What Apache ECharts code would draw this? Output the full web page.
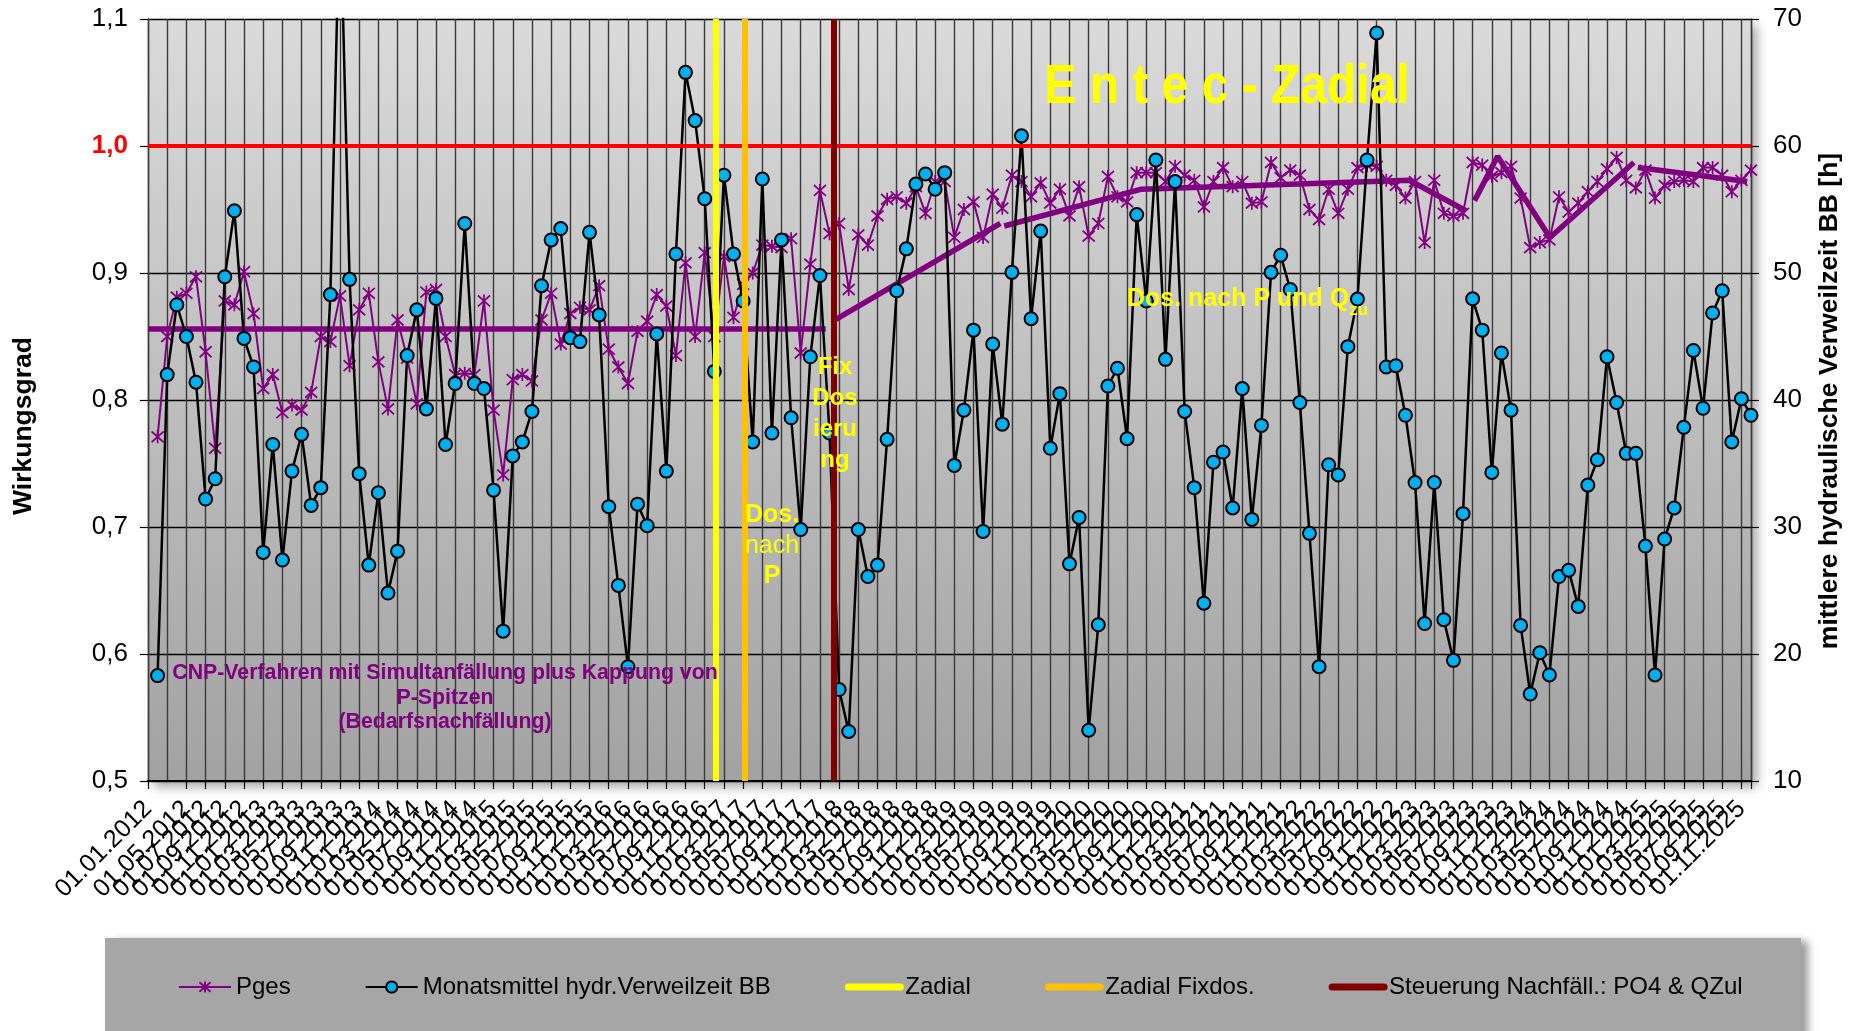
<!DOCTYPE html>
<html><head><meta charset="utf-8">
<script src="https://cdn.jsdelivr.net/npm/echarts@6/dist/echarts.min.js"></script>
<style>html,body{margin:0;padding:0;background:#fff}#c{width:1857px;height:1031px}</style>
</head><body><div id="c"></div>
<script>
// Tick labels: one per month, 01.01.2012 ... 01.12.2025 (every second one is shown)
const tickLabels = [];
for (let y = 2012; y <= 2025; y++) {
  for (let m = 1; m <= 12; m++) tickLabels.push('01.' + (m < 10 ? '0' + m : m) + '.' + y);
}
// Monthly values (167 months), plotted at month positions 1..167
const pges = [0.771,0.85,0.881,0.884,0.897,0.838,0.762,0.878,0.875,0.901,
 0.868,0.809,0.82,0.79,0.796,0.792,0.806,0.85,0.846,0.882,
 0.827,0.871,0.884,0.83,0.793,0.863,0.833,0.797,0.885,0.887,
 0.85,0.82,0.821,0.82,0.878,0.792,0.741,0.816,0.82,0.815,
 0.863,0.884,0.844,0.868,0.873,0.871,0.89,0.84,0.826,0.813,
 0.854,0.862,0.883,0.874,0.835,0.908,0.85,0.916,0.85,0.913,
 0.865,0.891,0.90,0.922,0.921,0.92,0.927,0.837,0.907,0.965,
 0.931,0.939,0.887,0.93,0.922,0.945,0.958,0.96,0.955,0.968,
 0.947,0.972,0.972,0.928,0.95,0.956,0.928,0.962,0.951,0.977,
 0.972,0.96,0.971,0.955,0.966,0.945,0.968,0.929,0.939,0.976,
 0.96,0.956,0.979,0.979,0.979,0.972,0.984,0.977,0.973,0.952,
 0.972,0.983,0.968,0.972,0.955,0.956,0.987,0.975,0.981,0.977,
 0.95,0.942,0.966,0.947,0.966,0.983,0.985,0.984,0.973,0.969,
 0.959,0.972,0.924,0.973,0.947,0.945,0.947,0.987,0.985,0.976,
 0.979,0.984,0.959,0.92,0.924,0.926,0.96,0.948,0.955,0.964,
 0.972,0.982,0.991,0.973,0.967,0.981,0.959,0.969,0.972,0.973,
 0.972,0.983,0.983,0.977,0.964,0.973,0.981];
const verweilzeit = [18.3,42.0,47.5,45.0,41.4,32.2,33.8,49.7,54.9,44.85,
 42.6,28.0,36.5,27.4,34.4,37.3,31.7,33.1,48.3,80,
 49.5,34.2,27.0,32.7,24.8,28.1,43.5,47.1,39.3,48.0,
 36.5,41.3,53.9,41.3,40.9,32.9,21.8,35.6,36.7,39.1,
 49.0,52.6,53.5,44.9,44.6,53.2,46.7,31.6,25.4,19.0,
 31.8,30.1,45.2,34.4,51.5,65.8,62.0,55.85,42.25,57.7,
 51.5,47.8,36.7,57.4,37.4,52.6,38.6,29.8,43.4,49.8,
 37.4,17.2,13.9,29.8,26.1,27.0,36.9,48.6,51.9,57.0,
 57.8,56.6,57.9,34.85,39.2,45.5,29.65,44.4,38.1,50.05,
 60.8,46.4,53.3,36.2,40.5,27.1,30.75,14.0,22.3,41.1,
 42.5,36.95,54.6,47.8,58.9,43.2,57.2,39.1,33.1,24.0,
 35.1,35.9,31.5,40.9,30.6,38.0,50.05,51.4,48.7,39.8,
 29.5,19.0,34.9,34.1,44.2,47.95,58.9,68.9,42.6,42.7,
 38.8,33.5,22.4,33.5,22.7,19.5,31.05,47.97,45.5,34.3,
 43.7,39.2,22.25,16.85,20.1,18.35,26.1,26.6,23.75,33.3,
 35.3,43.4,39.8,35.8,35.8,28.5,18.35,29.05,31.5,37.85,
 43.9,39.35,46.85,48.6,36.7,40.1,38.8];
// Trend segments [month position, Wirkungsgrad]
const trendA = [[0,0.856],[70.6,0.856]];
const trendB = [[71.3,0.862],[88.8,0.939]];
const trendC = [[89.2,0.937],[103.5,0.966],[131.4,0.973],[137.3,0.949]];
const trendD = [[138.2,0.957],[140.6,0.992],[146.05,0.928],[154.8,0.987]];
const trendE = [[155.2,0.983],[166.6,0.972]];
// Event markers (month positions)
const zadialAt = 59.15, fixdosAt = 62.2, steuerungAt = 71.4;
const limitValue = 1.0;

const FONT = '"Liberation Sans", Arial, sans-serif';
const toPairs = arr => arr.map((v, i) => [i + 1, v]);
const trendSeries = (d) => ({
  type: 'line', data: d, symbol: 'none', yAxisIndex: 0, z: 3, silent: true,
  lineStyle: { color: '#800080', width: 5.5 }, animation: false
});
const vLine = (name, pos, color) => ({
  name, type: 'line', data: [], symbol: 'none', z: 6,
  lineStyle: { color, width: 7, cap: 'round' }, itemStyle: { color },
  markLine: { silent: true, symbol: ['none', 'none'], label: { show: false },
    lineStyle: { color, width: 6, type: 'solid' }, data: [{ xAxis: pos }], animation: false }
});
const barLegend = (name, color) => ({ name, itemStyle: { opacity: 0 }, lineStyle: { width: 7, color, cap: 'round' } });

const chart = echarts.init(document.getElementById('c'), null, { renderer: 'canvas' });
chart.setOption({
  animation: false,
  backgroundColor: '#fff',
  textStyle: { fontFamily: FONT },
  grid: {
    left: 148, right: 106, top: 19, bottom: 250, show: true, containLabel: false, outerBoundsMode: 'none',
    borderWidth: 0,
    backgroundColor: new echarts.graphic.LinearGradient(0, 0, 0, 1, [
      { offset: 0, color: '#dadada' }, { offset: 1, color: '#a2a2a2' }]),
    shadowColor: 'rgba(0,0,0,0.35)', shadowBlur: 10, shadowOffsetX: 6, shadowOffsetY: 6
  },
  xAxis: {
    type: 'value', min: 0, max: 167, interval: 2,
    axisLine: { show: true, onZero: false, lineStyle: { color: '#000', width: 2 } },
    axisTick: { show: true, length: 8, inside: false, lineStyle: { color: '#000', width: 1.2 } },
    splitLine: { show: true, lineStyle: { color: '#3a3a3a', width: 1.4 } },
    axisLabel: {
      rotate: 45, fontSize: 25, color: '#000', fontFamily: FONT, margin: 24, hideOverlap: false,
      showMinLabel: true, showMaxLabel: true,
      formatter: v => (v % 2 === 0 && v <= 166) ? tickLabels[v] : ''
    }
  },
  yAxis: [{
    type: 'value', min: 0.5, max: 1.1, interval: 0.1,
    axisLine: { show: true, lineStyle: { color: '#3a3a3a', width: 1.4 } },
    axisTick: { show: true, length: 8, lineStyle: { color: '#000', width: 1.2 } },
    splitLine: { show: true, lineStyle: { color: '#000', width: 1.3 } },
    axisLabel: {
      fontSize: 26, color: '#000', margin: 20, fontFamily: FONT,
      formatter: v => {
        const s = v.toFixed(1).replace('.', ',');
        return Math.abs(v - 1.0) < 1e-6 ? '{r|' + s + '}' : s;
      },
      rich: { r: { color: '#ff0000', fontWeight: 'bold', fontSize: 26, fontFamily: FONT } }
    }
  }, {
    type: 'value', min: 10, max: 70, interval: 10, position: 'right',
    axisLine: { show: true, lineStyle: { color: '#3a3a3a', width: 1.4 } },
    axisTick: { show: true, length: 8, lineStyle: { color: '#000', width: 1.2 } },
    splitLine: { show: false },
    axisLabel: { fontSize: 26, color: '#000', margin: 22, fontFamily: FONT }
  }],
  legend: {
    left: 178, top: 975, itemGap: 74, itemWidth: 52, itemHeight: 14, padding: 0,
    textStyle: { fontSize: 24, color: '#000', fontFamily: FONT },
    data: ['Pges', 'Monatsmittel hydr.Verweilzeit BB',
      barLegend('Zadial', '#ffff00'), barLegend('Zadial Fixdos.', '#ffc000'),
      barLegend('Steuerung Nachfäll.: PO4 & QZul', '#800000')]
  },
  series: [
    {
      name: 'Pges', type: 'line', data: toPairs(pges), yAxisIndex: 0, z: 2,
      symbol: 'path://M0,0L10,10M10,0L0,10M5,-1L5,11', symbolSize: [12, 13],
      lineStyle: { color: '#800080', width: 2 },
      itemStyle: { color: '#800080', borderColor: '#800080', borderWidth: 1.8 }
    },
    trendSeries(trendA), trendSeries(trendB), trendSeries(trendC), trendSeries(trendD), trendSeries(trendE),
    {
      name: 'Monatsmittel hydr.Verweilzeit BB', type: 'line', data: toPairs(verweilzeit), yAxisIndex: 1, z: 4,
      symbol: 'circle', symbolSize: 13, clip: true,
      lineStyle: { color: '#000', width: 2.5 },
      itemStyle: { color: '#00b0f0', borderColor: '#000', borderWidth: 2 }
    },
    {
      type: 'line', data: [], symbol: 'none', z: 5, silent: true,
      markLine: { silent: true, symbol: ['none', 'none'], label: { show: false },
        lineStyle: { color: '#ff0000', width: 4, type: 'solid' }, data: [{ yAxis: limitValue }], animation: false }
    },
    vLine('Zadial', zadialAt, '#ffff00'),
    vLine('Zadial Fixdos.', fixdosAt, '#ffc000'),
    vLine('Steuerung Nachfäll.: PO4 & QZul', steuerungAt, '#800000')
  ],
  graphic: [
    { type: 'rect', z: -1, left: 105, top: 938, shape: { width: 1696, height: 110 },
      style: { fill: '#a6a6a6', shadowColor: 'rgba(0,0,0,0.4)', shadowBlur: 8, shadowOffsetX: 7, shadowOffsetY: 3 } },
    { type: 'text', x: 24, y: 426, rotation: Math.PI / 2, z: 10,
      style: { text: 'Wirkungsgrad', font: 'bold 26.5px ' + FONT, fill: '#000', align: 'center', verticalAlign: 'middle', textAlign: 'center', textVerticalAlign: 'middle' } },
    { type: 'text', x: 1830, y: 401, rotation: Math.PI / 2, z: 10,
      style: { text: 'mittlere hydraulische Verweilzeit BB [h]', font: 'bold 26.5px ' + FONT, fill: '#000', align: 'center', verticalAlign: 'middle', textAlign: 'center', textVerticalAlign: 'middle' } },
    { type: 'text', x: 1227, y: 88, scaleY: 1.15, z: 10,
      style: { text: 'E n t e c - Zadial', font: 'bold 48px ' + FONT, fill: '#ffff00', align: 'center', verticalAlign: 'middle', textAlign: 'center', textVerticalAlign: 'middle' } },
    { type: 'text', x: 445, y: 661, z: 10,
      style: { text: 'CNP-Verfahren mit Simultanfällung plus Kappung von\nP-Spitzen\n(Bedarfsnachfällung)', font: 'bold 21.3px ' + FONT, lineHeight: 24.5, fill: '#800080', align: 'center', verticalAlign: 'top', textAlign: 'center', textVerticalAlign: 'top' } },
    { type: 'text', x: 835, y: 352, z: 10,
      style: { text: 'Fix\nDos\nieru\nng', font: 'bold 24px ' + FONT, lineHeight: 31, fill: '#ffff00', align: 'center', verticalAlign: 'top', textAlign: 'center', textVerticalAlign: 'top' } },
    { type: 'text', x: 772, y: 500, z: 10,
      style: { text: '{a|Dos.}\n{b|nach}\n{a|P}', align: 'center', verticalAlign: 'top', textAlign: 'center', textVerticalAlign: 'top',
        rich: { a: { font: 'bold 25px ' + FONT, fill: '#ffff00', color: '#ffff00', lineHeight: 30.5 },
                b: { font: '25px ' + FONT, fill: '#ffff00', color: '#ffff00', lineHeight: 30.5 } } } },
    { type: 'text', x: 1127, y: 297, z: 10,
      style: { text: '{a|Dos. nach P und Q}{s|zu}', align: 'left', verticalAlign: 'middle', textAlign: 'left', textVerticalAlign: 'middle',
        rich: { a: { font: 'bold 25px ' + FONT, fill: '#ffff00', color: '#ffff00', lineHeight: 30, verticalAlign: 'bottom' },
                s: { font: 'bold 17px ' + FONT, fill: '#ffff00', color: '#ffff00', lineHeight: 30, verticalAlign: 'bottom', padding: [0, 0, -7, 0] } } } }
  ]
});
</script></body></html>
